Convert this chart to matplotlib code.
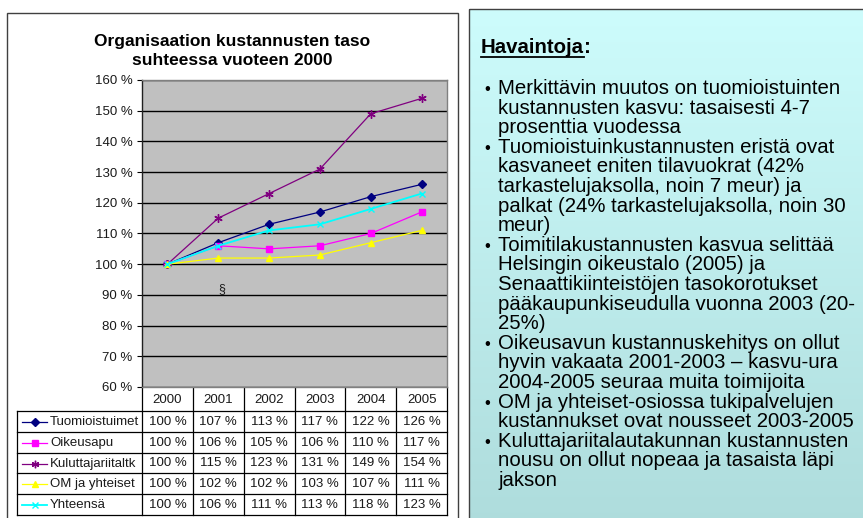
import matplotlib

matplotlib.use("Agg")

import matplotlib.pyplot as plt
import numpy as np
from matplotlib.colors import LinearSegmentedColormap
from matplotlib.patches import Rectangle

plt.rcParams["font.family"] = ["Liberation Sans", "DejaVu Sans"]

YEARS = ["2000", "2001", "2002", "2003", "2004", "2005"]
SERIES_NAMES = [
    "Tuomioistuimet",
    "Oikeusapu",
    "Kuluttajariitaltk",
    "OM ja yhteiset",
    "Yhteensä",
]
TUOMIOISTUIMET = [100, 107, 113, 117, 122, 126]
OIKEUSAPU = [100, 106, 105, 106, 110, 117]
KULUTTAJARIITALTK = [100, 115, 123, 131, 149, 154]
OM_JA_YHTEISET = [100, 102, 102, 103, 107, 111]
YHTEENSA = [100, 106, 111, 113, 118, 123]
Y_TICKS = [60, 70, 80, 90, 100, 110, 120, 130, 140, 150, 160]

TITLE = "Organisaation kustannusten taso\nsuhteessa vuoteen 2000"
NOTES_HEADING = "Havaintoja"
BULLETS = [
    [
        "Merkittävin muutos on tuomioistuinten",
        "kustannusten kasvu: tasaisesti 4-7",
        "prosenttia vuodessa",
    ],
    [
        "Tuomioistuinkustannusten eristä ovat",
        "kasvaneet eniten tilavuokrat (42%",
        "tarkastelujaksolla, noin 7 meur) ja",
        "palkat (24% tarkastelujaksolla, noin 30",
        "meur)",
    ],
    [
        "Toimitilakustannusten kasvua selittää",
        "Helsingin oikeustalo (2005) ja",
        "Senaattikiinteistöjen tasokorotukset",
        "pääkaupunkiseudulla vuonna 2003 (20-",
        "25%)",
    ],
    [
        "Oikeusavun kustannuskehitys on ollut",
        "hyvin vakaata 2001-2003 – kasvu-ura",
        "2004-2005 seuraa muita toimijoita",
    ],
    [
        "OM ja yhteiset-osiossa tukipalvelujen",
        "kustannukset ovat nousseet 2003-2005",
    ],
    [
        "Kuluttajariitalautakunnan kustannusten",
        "nousu on ollut nopeaa ja tasaista läpi",
        "jakson",
    ],
]

# layout in pixels
WIDTH = 863
HEIGHT = 518
PLOT_LEFT = 142
PLOT_RIGHT = 447
PLOT_TOP = 80
PLOT_BOTTOM = 387
TABLE_LEFT = 17
HEADER_BOTTOM = 411
ROW_HEIGHT = 20.8
TEXT_COLOR = "#1a1a1a"
NOTES_SIZE = 14.7

STYLES = [
    {"color": "#000080", "marker": "D", "markersize": 4.2, "linewidth": 0.9},
    {"color": "#ff00ff", "marker": "s", "markersize": 4.5, "linewidth": 0.9},
    {"color": "#800080", "marker": (6, 2, 0), "markersize": 6, "linewidth": 0.9},
    {"color": "#ffff00", "marker": "^", "markersize": 5, "linewidth": 0.9},
    {"color": "#00ffff", "marker": "x", "markersize": 5, "linewidth": 1.3},
]


def main() -> None:
    series = [
        TUOMIOISTUIMET,
        OIKEUSAPU,
        KULUTTAJARIITALTK,
        OM_JA_YHTEISET,
        YHTEENSA,
    ]

    figure = plt.figure(figsize=(WIDTH / 100, HEIGHT / 100), dpi=100)
    figure.patch.set_facecolor("white")

    background = figure.add_axes([0, 0, 1, 1])
    background.set_axis_off()

    # right notes box with soft gradient
    gradient = np.linspace(0, 1, 256).reshape(-1, 1)
    cmap = LinearSegmentedColormap.from_list(
        "notes", ["#cdfcfc", "#aedcdc"]
    )
    background.imshow(
        gradient,
        extent=[469, 875, 530, 9],
        cmap=cmap,
        aspect="auto",
        zorder=0,
    )
    background.add_patch(
        Rectangle(
            (469, 9),
            420,
            530,
            fill=False,
            edgecolor="#404040",
            linewidth=1.0,
            zorder=1,
        )
    )

    # left chart box
    background.add_patch(
        Rectangle(
            (7, 13),
            451,
            530,
            facecolor="white",
            edgecolor="#404040",
            linewidth=1.0,
            zorder=1,
        )
    )
    background.set_xlim(0, WIDTH)
    background.set_ylim(HEIGHT, 0)

    background.text(
        232,
        51,
        TITLE,
        ha="center",
        va="center",
        fontsize=12.5,
        fontweight="bold",
        linespacing=1.35,
        color="black",
        zorder=2,
    )

    # plot area
    axes = figure.add_axes(
        [
            PLOT_LEFT / WIDTH,
            1 - PLOT_BOTTOM / HEIGHT,
            (PLOT_RIGHT - PLOT_LEFT) / WIDTH,
            (PLOT_BOTTOM - PLOT_TOP) / HEIGHT,
        ]
    )
    axes.set_facecolor("#c0c0c0")
    positions = np.arange(len(YEARS))
    for values, style in zip(series, STYLES):
        axes.plot(
            positions,
            values,
            color=style["color"],
            linewidth=style["linewidth"],
            marker=style["marker"],
            markersize=style["markersize"],
            markeredgewidth=1.0,
            markerfacecolor=style["color"],
            markeredgecolor=style["color"],
            zorder=3,
        )

    axes.text(
        1.07,
        92,
        "§",
        ha="center",
        va="center",
        fontsize=9,
        color=TEXT_COLOR,
    )

    axes.set_xlim(-0.5, len(YEARS) - 0.5)
    axes.set_ylim(Y_TICKS[0], Y_TICKS[-1])
    axes.set_xticks([])
    axes.set_yticks(Y_TICKS)
    axes.set_yticklabels([f"{tick} %" for tick in Y_TICKS])
    axes.yaxis.grid(True, color="black", linewidth=1.0)
    axes.set_axisbelow(True)
    axes.tick_params(
        axis="y",
        direction="out",
        length=3.8,
        width=0.8,
        pad=3,
        labelsize=9.5,
        labelcolor=TEXT_COLOR,
    )
    for name, spine in axes.spines.items():
        spine.set_color("#808080" if name != "left" else "#202020")
        spine.set_linewidth(1.0)

    # data table under the plot
    column_width = (PLOT_RIGHT - PLOT_LEFT) / len(YEARS)
    table_bottom = HEADER_BOTTOM + ROW_HEIGHT * len(SERIES_NAMES)
    line_style = {"color": "black", "linewidth": 0.9, "zorder": 2}

    for index in range(len(YEARS) + 1):
        x = PLOT_LEFT + index * column_width
        background.plot([x, x], [PLOT_BOTTOM, table_bottom], **line_style)
    background.plot(
        [TABLE_LEFT, TABLE_LEFT],
        [HEADER_BOTTOM, table_bottom],
        **line_style,
    )
    for row in range(len(SERIES_NAMES) + 1):
        y = HEADER_BOTTOM + row * ROW_HEIGHT
        background.plot([TABLE_LEFT, PLOT_RIGHT], [y, y], **line_style)

    for index, year in enumerate(YEARS):
        background.text(
            PLOT_LEFT + (index + 0.5) * column_width,
            (PLOT_BOTTOM + HEADER_BOTTOM) / 2 + 1,
            year,
            ha="center",
            va="center",
            fontsize=9.5,
            color=TEXT_COLOR,
            zorder=2,
        )

    for row, (name, values, style) in enumerate(
        zip(SERIES_NAMES, series, STYLES)
    ):
        y = HEADER_BOTTOM + (row + 0.5) * ROW_HEIGHT + 0.5
        background.plot(
            [22, 47],
            [y, y],
            color=style["color"],
            linewidth=style["linewidth"],
            zorder=2,
        )
        background.plot(
            [34.5],
            [y],
            color=style["color"],
            marker=style["marker"],
            markersize=style["markersize"] * 0.9,
            markeredgewidth=1.0,
            zorder=2,
        )
        background.text(
            50,
            y,
            name,
            ha="left",
            va="center",
            fontsize=9.5,
            color=TEXT_COLOR,
            zorder=2,
        )
        for index, value in enumerate(values):
            background.text(
                PLOT_LEFT + (index + 0.5) * column_width,
                y,
                f"{value} %",
                ha="center",
                va="center",
                fontsize=9.5,
                color=TEXT_COLOR,
                zorder=2,
            )

    # notes text
    heading = background.text(
        481,
        53,
        NOTES_HEADING,
        ha="left",
        va="baseline",
        fontsize=NOTES_SIZE,
        fontweight="bold",
        color="black",
        zorder=2,
    )
    figure.canvas.draw()
    extent = heading.get_window_extent()
    inverse = background.transData.inverted()
    (x0, _), (x1, _) = inverse.transform(
        [[extent.x0, extent.y0], [extent.x1, extent.y1]]
    )
    background.plot(
        [x0, x1], [56.5, 56.5], color="black", linewidth=1.3, zorder=2
    )
    background.text(
        x1,
        53,
        ":",
        ha="left",
        va="baseline",
        fontsize=NOTES_SIZE,
        fontweight="bold",
        color="black",
        zorder=2,
    )

    baseline = 94
    spacing = 19.6
    for bullet in BULLETS:
        background.text(
            487,
            baseline,
            "•",
            ha="center",
            va="baseline",
            fontsize=12,
            color="black",
            zorder=2,
        )
        for line in bullet:
            background.text(
                498,
                baseline,
                line,
                ha="left",
                va="baseline",
                fontsize=NOTES_SIZE,
                color="black",
                zorder=2,
            )
            baseline += spacing

    background.set_xlim(0, WIDTH)
    background.set_ylim(HEIGHT, 0)

    figure.savefig("out.png", dpi=100)
    plt.close(figure)


if __name__ == "__main__":
    main()
